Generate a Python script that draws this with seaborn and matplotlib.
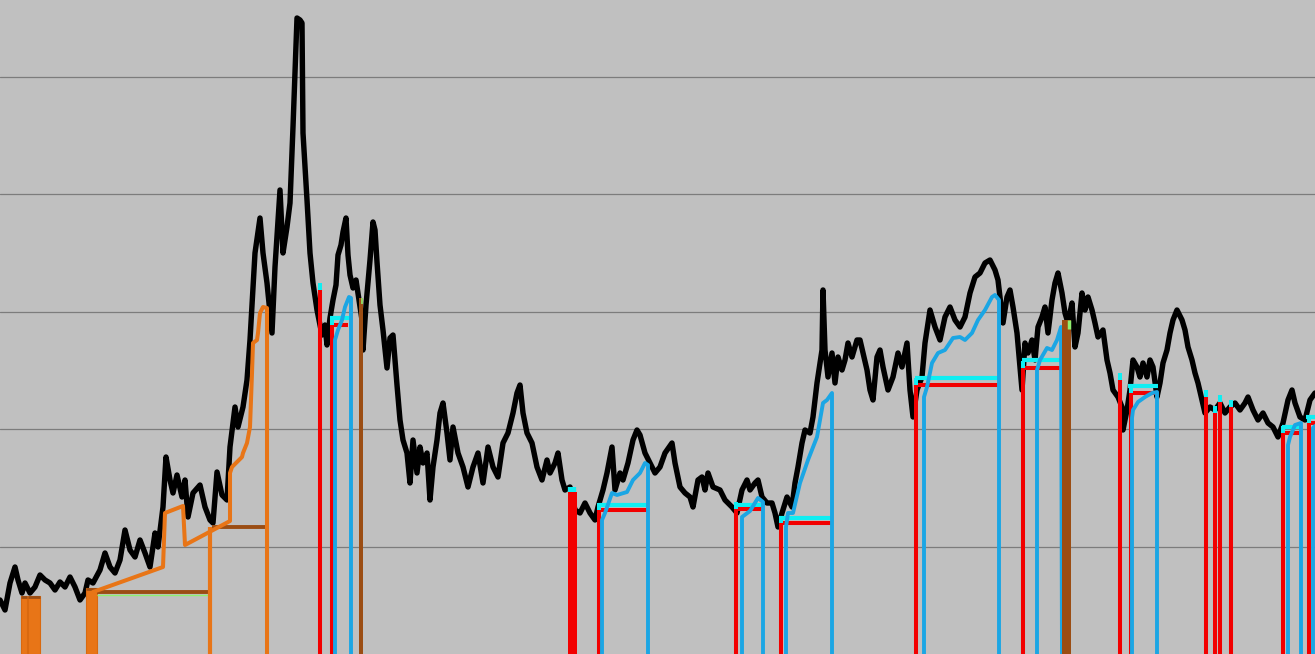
import matplotlib
matplotlib.use("Agg")
import matplotlib.pyplot as plt
import seaborn as sns

# ---------------- data (price in chart units: height above the bottom edge) ----------------
bar_x = [0,5,10,15,18,22,25,30,35,40,45,50,55,60,65,70,75,80,85,88,93,100,105,110,115,120,125,130,135,140,
         145,150,155,158,163,166,170,173,177,182,185,188,193,200,205,210,213,217,222,227,230,235,238,243,247,
         250,255,260,263,267,272,275,280,283,287,290,293,297,300,302,303,307,310,313,317,322,325,327,330,333,
         336,338,341,343,346,348,350,353,356,359,362,363,366,370,373,375,377,380,383,387,390,393,397,400,403,
         407,410,413,417,420,423,427,430,433,437,440,443,447,450,453,458,463,468,473,478,483,488,493,498,503,
         508,513,517,520,523,527,532,537,542,547,550,555,558,562,565,570,575,580,585,590,595,598,603,607,612,
         615,620,623,628,633,637,640,645,650,655,660,665,672,675,680,685,690,693,698,702,705,708,713,720,725,
         732,737,742,747,750,755,758,762,767,772,775,778,782,787,792,795,798,802,805,810,813,817,819,822,823,
         825,828,832,835,838,842,845,848,852,857,860,863,867,870,873,877,880,883,888,893,898,902,907,910,913,
         917,922,925,930,935,940,945,950,955,960,965,970,975,980,985,990,995,998,1003,1007,1010,1013,1017,1020,
         1022,1025,1028,1032,1035,1038,1042,1045,1048,1052,1055,1058,1062,1065,1068,1072,1075,1078,1082,1085,
         1088,1092,1095,1098,1103,1107,1110,1113,1118,1122,1123,1127,1130,1133,1137,1140,1143,1147,1150,1153,
         1157,1160,1163,1167,1170,1173,1177,1182,1185,1188,1192,1195,1198,1202,1205,1210,1215,1220,1225,1230,
         1235,1240,1245,1248,1253,1258,1263,1268,1273,1278,1283,1288,1292,1295,1300,1305,1310,1315]
close = [54,44,71,87,74,61,71,61,67,79,74,71,64,72,67,77,67,54,61,74,71,84,101,87,81,94,124,104,97,114,
         101,87,121,107,147,197,174,161,179,157,174,137,161,169,147,134,131,182,159,154,207,247,227,247,274,
         314,401,436,401,371,321,387,464,401,427,451,527,636,634,631,521,454,401,371,344,319,329,309,336,354,
         369,399,409,422,436,399,379,366,374,354,334,304,349,394,432,424,392,349,324,286,316,319,269,234,214,
         201,171,214,181,207,191,201,154,187,214,241,251,221,194,227,201,187,167,187,201,171,207,187,177,211,
         221,241,261,269,241,221,211,187,174,194,181,191,201,174,164,167,144,141,151,141,134,147,164,181,207,
         164,181,174,191,214,224,219,201,191,181,187,201,211,191,167,161,157,147,174,177,164,181,167,164,154,
         147,141,164,174,164,171,174,157,151,151,141,127,141,157,147,171,187,211,224,221,237,271,284,304,364,
         304,277,301,271,297,284,294,311,297,314,314,301,284,264,254,297,304,287,264,277,301,287,311,264,237,
         264,277,311,344,327,314,337,347,334,327,337,361,377,381,391,394,384,374,331,357,364,347,321,287,
         264,311,301,314,294,327,337,347,321,354,371,381,361,341,331,351,307,321,361,344,
         357,344,331,317,324,294,281,264,257,247,224,244,264,294,287,277,291,277,294,287,
         257,271,291,304,321,334,344,334,324,307,294,281,271,254,241,247,244,251,241,247,
         251,244,251,257,244,234,241,231,227,217,231,254,264,251,237,234,254,261]

grid_levels = [107.3, 224.8, 342.3, 459.8, 577.3]

# orange (long) entries
orange_bar_x = [24, 34.5, 91.5]
orange_bar_w = [6, 12, 11]
orange_bar_top = [58, 58, 66]
orange_step_x = [93, 163, 165, 183, 185, 230, 230, 232, 237, 242, 243, 247, 250, 252, 253, 257, 258, 260, 263, 267, 267]
orange_step_h = [62, 87, 141, 148, 109, 133, 181, 187, 192, 197, 201, 211, 227, 281, 311, 314, 321, 341, 347, 346, 0]
orange_exit_x = [210]
orange_exit_top = [127]
brown_levels = [62, 127]
brown_start = [97, 212]
brown_end = [208, 267]

# red entry markers
red_x = [320, 332, 599, 736, 781, 916, 1023, 1120, 1131, 1206, 1215, 1220, 1231, 1283, 1309]
red_top = [364, 329, 144, 145, 131, 269, 286, 274, 261, 257, 241, 252, 247, 221, 231]
red_level_start = [332, 599, 736, 781, 916, 1023, 1131, 1283, 1309]
red_level_end = [348, 647, 762, 831, 999, 1060, 1157, 1301, 1315]
red_level = [329, 144, 145, 131, 269, 286, 261, 221, 231]
cyan_level_start = [330, 598, 735, 779, 915, 1022, 1128, 1282, 1306]
cyan_level_end = [350, 647, 763, 831, 998, 1061, 1158, 1302, 1315]
cyan_level = [336, 149, 149, 136, 276, 294, 268, 227, 237]
red_block_x = [572.5]
red_block_w = [9]
red_block_top = [162]

# blue trailing paths (entry, trail, exit)
blue_paths = {
    "B": ([335, 335, 338, 342, 345, 349, 351, 351], [0, 314, 324, 334, 347, 357, 356, 0]),
    "D": ([602, 602, 605, 612, 617, 627, 633, 640, 645, 648, 648], [0, 134, 141, 161, 159, 162, 174, 181, 191, 189, 0]),
    "E": ([742, 742, 750, 758, 763, 763], [0, 137, 143, 156, 152, 0]),
    "F": ([786, 786, 788, 793, 800, 808, 817, 823, 827, 832, 832], [0, 127, 141, 141, 171, 194, 217, 251, 254, 261, 0]),
    "G": ([924, 924, 927, 932, 938, 945, 953, 960, 965, 972, 978, 985, 992, 995, 999, 999],
          [0, 257, 267, 291, 301, 304, 316, 317, 314, 321, 334, 344, 357, 359, 354, 0]),
    "H": ([1037, 1037, 1040, 1047, 1052, 1057, 1061, 1062], [0, 284, 294, 306, 304, 314, 327, 0]),
    "J": ([1132, 1132, 1133, 1138, 1145, 1152, 1157, 1157], [0, 236, 244, 252, 257, 261, 262, 0]),
    "L": ([1288, 1288, 1290, 1295, 1301, 1301], [0, 209, 217, 229, 231, 0]),
    "M": ([1313, 1313, 1315], [0, 226, 228]),
}

# brown exit markers
brown_bar_x = [361, 1066.5]
brown_bar_w = [4, 9]
brown_bar_top = [356, 334]

# ---------------- colours ----------------
BG = "#c0c0c0"
GRID = "#7c7c7c"
ORANGE = "#e87517"
BROWN = "#9b4d13"
GREEN = "#8fef6f"
RED = "#f20000"
CYAN = "#10eef2"
BLUE = "#1ba6e4"

sns.set_style("white")
fig = plt.figure(figsize=(13.15, 6.54), dpi=100)
ax = fig.add_axes([0, 0, 1, 1])
ax.set_facecolor(BG)
fig.patch.set_facecolor(BG)

for g in grid_levels:
    ax.axhline(g, color=GRID, lw=0.9, zorder=1)

sns.lineplot(x=bar_x, y=close, sort=False, estimator=None, color="black", lw=3.9, ax=ax, zorder=3)

# orange long entries
ax.bar(orange_bar_x, orange_bar_top, width=orange_bar_w, color=ORANGE, edgecolor="#d9690f", lw=0.8, zorder=4)
for bx, bw, bt in zip(orange_bar_x, orange_bar_w, orange_bar_top):
    ax.hlines(bt - 1, bx - bw / 2, bx + bw / 2, color=BROWN, lw=2, zorder=5)
ax.hlines(brown_levels, brown_start, brown_end, color=BROWN, lw=2.8, zorder=4)
ax.hlines([brown_levels[0] - 2.5], brown_start[0], brown_end[0], color=GREEN, lw=1.0, zorder=4)
ax.vlines(orange_exit_x, 0, orange_exit_top, color=ORANGE, lw=3.0, zorder=5)
sns.lineplot(x=orange_step_x, y=orange_step_h, sort=False, estimator=None, color=ORANGE, lw=2.9, ax=ax, zorder=5)

# red / cyan entry levels
ax.hlines(cyan_level, cyan_level_start, cyan_level_end, color=CYAN, lw=3.0, zorder=5)
ax.hlines(red_level, red_level_start, red_level_end, color=RED, lw=2.9, zorder=6)
ax.vlines(red_x, 0, red_top, color=RED, lw=2.9, zorder=6)
ax.vlines(red_x, red_top, [t + 7 for t in red_top], color=CYAN, lw=2.9, zorder=6)
ax.bar(red_block_x, red_block_top, width=red_block_w, color=RED, lw=0, zorder=6)
ax.vlines(red_block_x, red_block_top, [t + 5 for t in red_block_top], color=CYAN, lw=6, zorder=6)

# blue trailing paths
for name, (px, ph) in blue_paths.items():
    sns.lineplot(x=px, y=ph, sort=False, estimator=None, color=BLUE, lw=2.8, ax=ax, zorder=7)

# brown exits
ax.bar(brown_bar_x, brown_bar_top, width=brown_bar_w, color=BROWN, lw=0, zorder=7)
ax.vlines([brown_bar_x[1] + 2.5], brown_bar_top[1] - 9, brown_bar_top[1], color=GREEN, lw=2.5, zorder=8)
ax.vlines([brown_bar_x[0] + 1], brown_bar_top[0] - 6, brown_bar_top[0], color=GREEN, lw=1.2, zorder=8)

ax.set_xlim(0, 1315)
ax.set_ylim(0, 654)
ax.set_xticks([])
ax.set_yticks([])
ax.set_xlabel("")
ax.set_ylabel("")
for s in ax.spines.values():
    s.set_visible(False)
if ax.get_legend() is not None:
    ax.get_legend().remove()

fig.savefig("out.png", dpi=100, facecolor=BG)
